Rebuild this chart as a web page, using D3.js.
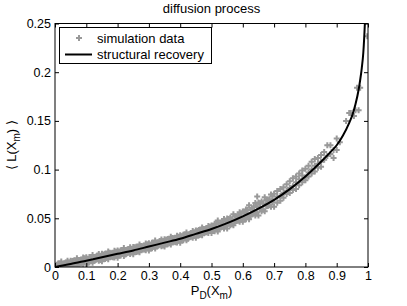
<!DOCTYPE html>
<html>
<head>
<meta charset="utf-8">
<script src="https://cdn.jsdelivr.net/npm/d3@7"></script>
<style>
  body { margin: 0; background: #fff; }
  text { font-family: "Liberation Sans", Arial, Helvetica, sans-serif; }
</style>
</head>
<body>
<svg id="svg"></svg>
<script>
var Marge = {top: 23.5, right: 39, bottom: 39, left: 55};
var W = 407, H = 306;
var plotW = W - Marge.left - Marge.right, plotH = H - Marge.top - Marge.bottom;

// structural recovery curve
var curveP = [0, 0.05, 0.1, 0.15, 0.2, 0.25, 0.3, 0.35, 0.4, 0.45, 0.5, 0.55, 0.6, 0.65, 0.7,
              0.75, 0.8, 0.85, 0.88, 0.9, 0.92, 0.94, 0.95, 0.96, 0.97, 0.975, 0.98, 0.985, 0.99, 0.993];
var curveL = [0, 0.003, 0.0065, 0.010, 0.0135, 0.017, 0.021, 0.025, 0.029, 0.034, 0.039, 0.045, 0.052, 0.060, 0.069,
              0.080, 0.093, 0.108, 0.118, 0.125, 0.135, 0.148, 0.156, 0.167, 0.182, 0.192, 0.204, 0.22, 0.25, 0.275];

// simulation data: outer rows and sparse tail
var simP = [0.01,0.02,0.03,0.04,0.05,0.06,0.07,0.08,0.09,0.10,0.11,0.12,0.13,0.14,0.15,0.16,0.17,0.18,0.19,0.20,
            0.21,0.22,0.23,0.24,0.25,0.26,0.27,0.28,0.29,0.30,0.31,0.32,0.33,0.34,0.35,0.36,0.37,0.38,0.39,0.40,
            0.41,0.42,0.43,0.44,0.45,0.46,0.47,0.48,0.49,0.50,0.51,0.52,0.53,0.54,0.55,0.56,0.57,0.58,0.59,0.60,
            0.61,0.62,0.63,0.64,0.65,0.66,0.67,0.68,0.69,0.70,
            0.01,0.02,0.03,0.04,0.05,0.06,0.07,0.08,0.09,0.10,0.11,0.12,0.13,0.14,0.15,0.16,0.17,0.18,0.19,0.20,
            0.21,0.22,0.23,0.24,0.25,0.26,0.27,0.28,0.29,0.30,0.31,0.32,0.33,0.34,0.35,0.36,0.37,0.38,0.39,0.40,
            0.41,0.42,0.43,0.44,0.45,0.46,0.47,0.48,0.49,0.50,0.51,0.52,0.53,0.54,0.55,0.56,0.57,0.58,0.59,0.60,
            0.61,0.62,0.63,0.64,0.65,0.66,0.67,0.68,0.69,0.70,
            0.015,0.035,0.055,0.075,0.095,0.115,0.135,0.155,0.175,0.195,0.215,0.235,0.255,0.275,0.295,0.315,0.335,
            0.355,0.375,0.395,0.415,0.435,0.455,0.475,0.495,0.515,0.535,0.555,0.575,0.595,0.615,0.635,0.655,0.675,0.695,
            0.71,0.71,0.71,0.72,0.72,0.72,0.73,0.73,0.73,0.74,0.74,0.74,0.75,0.75,0.75,0.76,0.76,0.76,0.77,0.77,0.77,
            0.78,0.78,0.78,0.79,0.79,0.79,0.80,0.80,0.80,0.81,0.81,0.81,0.82,0.82,0.82,0.83,0.83,0.83,0.84,0.84,0.84,
            0.85,0.85,0.85,0.86,0.86,0.87,0.87,0.88,0.88,0.89,0.89,0.90,0.90,0.91,0.93,0.94,0.945,0.955,0.96,0.965,
            0.97,0.975,0.9975, 0.646];
var simL = [0.0036,0.0057,0.0038,0.0064,0.0065,0.0067,0.0089,0.0071,0.0098,0.0100,0.0102,0.0124,0.0106,0.0133,0.0135,
            0.0137,0.0159,0.0141,0.0168,0.0170,0.0172,0.0194,0.0176,0.0203,0.0205,0.0208,0.0231,0.0214,0.0242,0.0245,
            0.0248,0.0271,0.0254,0.0282,0.0285,0.0288,0.0311,0.0294,0.0322,0.0325,0.0330,0.0355,0.0340,0.0370,0.0375,
            0.0380,0.0405,0.0390,0.0420,0.0425,0.0444,0.0477,0.0454,0.0494,0.0499,0.0506,0.0541,0.0520,0.0562,0.0569,
            0.0590,0.0633,0.0604,0.0656,0.0663,0.0672,0.0717,0.0690,0.0744,0.0753,
            0.0002,0.0003,0.0003,0.0004,0.0005,0.0012,0.0009,0.0036,0.0028,0.0025,0.0047,0.0044,0.0071,0.0063,0.0060,
            0.0082,0.0079,0.0106,0.0098,0.0095,0.0117,0.0114,0.0141,0.0133,0.0130,0.0153,0.0151,0.0179,0.0172,0.0170,
            0.0193,0.0191,0.0219,0.0212,0.0210,0.0233,0.0231,0.0259,0.0252,0.0250,0.0275,0.0275,0.0305,0.0300,0.0300,
            0.0325,0.0325,0.0355,0.0350,0.0350,0.0367,0.0365,0.0405,0.0396,0.0394,0.0429,0.0429,0.0471,0.0464,0.0464,
            0.0491,0.0489,0.0541,0.0530,0.0528,0.0573,0.0573,0.0627,0.0618,0.0618,
            0.0010,0.0021,0.0033,0.0048,0.0062,0.0075,0.0090,0.0104,0.0118,0.0132,0.0146,0.0160,0.0174,0.0190,0.0206,
            0.0222,0.0238,0.0254,0.0270,0.0286,0.0305,0.0325,0.0345,0.0365,0.0385,0.0408,0.0432,0.0457,0.0485,0.0513,
            0.0544,0.0576,0.0609,0.0645,0.0681,
            0.078,0.066,0.072,0.073,0.080,0.068,0.082,0.071,0.076,0.075,0.085,0.078,0.088,0.076,0.081,0.083,0.079,0.091,
            0.087,0.093,0.080,0.090,0.084,0.096,0.094,0.087,0.099,0.092,0.101,0.089,0.097,0.104,0.093,0.100,0.108,0.096,
            0.104,0.098,0.111,0.106,0.112,0.102,0.108,0.115,0.103,0.118,0.110,0.125,0.114,0.116,0.125,0.112,0.120,0.120,
            0.132,0.128,0.150,0.158,0.158,0.155,0.161,0.184,0.161,0.184,0.237, 0.0723];

// simulation data: inner rows of the dense band
var bandP = [0.005,0.015,0.025,0.035,0.045,0.055,0.065,0.075,0.085,0.095,0.105,0.115,0.125,0.135,0.145,0.155,0.165,0.175,
             0.185,0.195,0.205,0.215,0.225,0.235,0.245,0.255,0.265,0.275,0.285,0.295,0.305,0.315,0.325,0.335,0.345,
             0.355,0.365,0.375,0.385,0.395,0.405,0.415,0.425,0.435,0.445,0.455,0.465,0.475,0.485,0.495,0.505,0.515,
             0.525,0.535,0.545,0.555,0.565,0.575,0.585,0.595,0.605,0.615,0.625,0.635,0.645,0.655,0.665,0.675,0.685,0.695];
var bandUpper = [0.0023,0.0037,0.0030,0.0046,0.0047,0.0062,0.0056,0.0073,0.0075,0.0090,0.0084,0.0101,0.0103,0.0118,0.0112,
             0.0129,0.0131,0.0146,0.0140,0.0157,0.0159,0.0174,0.0168,0.0185,0.0187,0.0202,0.0197,0.0215,0.0218,0.0234,
             0.0229,0.0247,0.0250,0.0266,0.0261,0.0279,0.0282,0.0298,0.0293,0.0311,0.0315,0.0333,0.0330,0.0350,0.0355,
             0.0373,0.0370,0.0390,0.0395,0.0413,0.0422,0.0444,0.0440,0.0465,0.0470,0.0493,0.0491,0.0518,0.0525,0.0549,
             0.0560,0.0589,0.0584,0.0616,0.0624,0.0654,0.0651,0.0685,0.0695,0.0726];
var bandLower = [0.0001,0.0001,0.0001,0.0007,0.0009,0.0024,0.0017,0.0034,0.0037,0.0052,0.0045,0.0062,0.0065,0.0080,0.0073,
             0.0090,0.0093,0.0108,0.0101,0.0118,0.0121,0.0136,0.0129,0.0146,0.0149,0.0164,0.0158,0.0176,0.0180,0.0196,
             0.0190,0.0208,0.0212,0.0228,0.0222,0.0240,0.0244,0.0260,0.0254,0.0272,0.0277,0.0295,0.0291,0.0311,0.0317,
             0.0335,0.0331,0.0351,0.0357,0.0375,0.0373,0.0395,0.0389,0.0414,0.0421,0.0444,0.0440,0.0467,0.0476,0.0500,
             0.0499,0.0528,0.0522,0.0554,0.0563,0.0593,0.0589,0.0623,0.0634,0.0665];

var xTicks = [0, 0.1, 0.2, 0.3, 0.4, 0.5, 0.6, 0.7, 0.8, 0.9, 1];
var yTicks = [0, 0.05, 0.1, 0.15, 0.2, 0.25];

var svg = d3.select("#svg").attr("width", W).attr("height", H);

var x_scale = d3.scaleLinear().domain([0, 1]).range([0, plotW]);
var y_scale = d3.scaleLinear().domain([0, 0.25]).range([plotH, 0]);

var g = svg.append("g").attr("transform", "translate(" + Marge.left + "," + Marge.top + ")");

svg.append("defs").append("clipPath").attr("id", "clip")
   .append("rect").attr("width", plotW).attr("height", plotH);

// scatter as plus signs
var plots = g.append("g").attr("clip-path", "url(#clip)");
var sim = d3.range(simP.length).map(function(i) { return [simP[i], simL[i]]; });
bandP.forEach(function(p, i) { sim.push([p, bandUpper[i]]); sim.push([p, bandLower[i]]); });
plots.selectAll("path.sim").data(sim).enter().append("path")
   .attr("class", "sim")
   .attr("d", function(d) {
      var cx = x_scale(d[0]), cy = y_scale(d[1]);
      return "M" + (cx - 3) + "," + cy + "H" + (cx + 3) + "M" + cx + "," + (cy - 3) + "V" + (cy + 3);
   })
   .attr("stroke", "#999").attr("stroke-width", 2).attr("fill", "none");

var lineFunction = d3.line()
   .x(function(d, i) { return x_scale(curveP[i]); })
   .y(function(d) { return y_scale(d); })
   .curve(d3.curveMonotoneX);
plots.append("path").attr("d", lineFunction(curveL))
   .attr("stroke", "#000").attr("stroke-width", 2).attr("fill", "none");

// axes: box with inward ticks on all sides
var tickFmt = function(d) { return d3.format("")(+d.toFixed(2)); };
g.append("g").attr("transform", "translate(0," + plotH + ")")
   .call(d3.axisBottom(x_scale).tickValues(xTicks).tickSizeInner(-4).tickSizeOuter(0).tickPadding(4).tickFormat(tickFmt));
g.append("g")
   .call(d3.axisTop(x_scale).tickValues(xTicks).tickSizeInner(-4).tickSizeOuter(0).tickFormat(""));
g.append("g")
   .call(d3.axisLeft(y_scale).tickValues(yTicks).tickSizeInner(-4).tickSizeOuter(0).tickPadding(4).tickFormat(tickFmt));
g.append("g").attr("transform", "translate(" + plotW + ",0)")
   .call(d3.axisRight(y_scale).tickValues(yTicks).tickSizeInner(-4).tickSizeOuter(0).tickFormat(""));
g.selectAll(".domain").remove();
g.selectAll(".tick line").attr("stroke", "#000");
g.selectAll(".tick text").attr("font-size", 12.5).attr("fill", "#000")
   .attr("font-family", "'Liberation Sans', Arial, sans-serif");
g.append("rect").attr("width", plotW).attr("height", plotH)
   .attr("fill", "none").attr("stroke", "#000").attr("stroke-width", 1);

// title
svg.append("text").attr("x", Marge.left + plotW / 2).attr("y", 13)
   .attr("text-anchor", "middle").attr("font-size", 13).text("diffusion process");

// x label
var xl = svg.append("text").attr("x", Marge.left + plotW / 2).attr("y", 295)
   .attr("text-anchor", "middle").attr("font-size", 13);
xl.append("tspan").text("P");
xl.append("tspan").attr("dy", 4).attr("font-size", 10).text("D");
xl.append("tspan").attr("dy", -4).text("(X");
xl.append("tspan").attr("dy", 4).attr("font-size", 10).text("m");
xl.append("tspan").attr("dy", -4).text(")");

// y label
var yl = svg.append("text").attr("transform", "translate(16," + (Marge.top + plotH / 2) + ") rotate(-90)")
   .attr("text-anchor", "middle").attr("font-size", 13);
yl.append("tspan").text("\u27E8 L(X");
yl.append("tspan").attr("dy", 4).attr("font-size", 10).text("m");
yl.append("tspan").attr("dy", -4).text(") \u27E9");

// legend
var lg = svg.append("g");
lg.append("rect").attr("x", 59.5).attr("y", 27.5).attr("width", 152).attr("height", 36)
   .attr("fill", "#fff").attr("stroke", "#000").attr("stroke-width", 1);
lg.append("path").attr("d", "M76,38H82M79,35V41").attr("stroke", "#999").attr("stroke-width", 2);
lg.append("text").attr("x", 97).attr("y", 42.5).attr("font-size", 13).text("simulation data");
lg.append("line").attr("x1", 65).attr("x2", 92).attr("y1", 54.5).attr("y2", 54.5)
   .attr("stroke", "#000").attr("stroke-width", 2);
lg.append("text").attr("x", 97).attr("y", 58.5).attr("font-size", 13).text("structural recovery");
</script>
</body>
</html>
